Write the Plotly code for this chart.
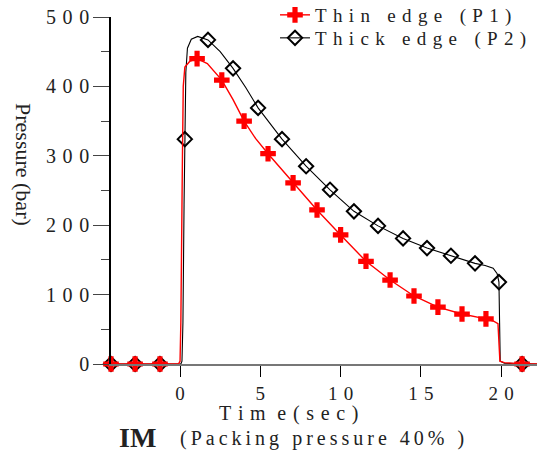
import plotly.graph_objects as go

# ---------------- data ----------------
# marker points
thin_mark_t = [-4.3, -2.8, -1.25, 1.06, 2.6, 3.99, 5.48, 7.04, 8.53, 10.0, 11.58, 13.08, 14.57, 16.06, 17.56, 19.05, 21.3]
thin_mark_p = [0, 0, 0, 440, 409, 350, 303, 261, 222, 186, 148, 121, 98, 82, 72, 65, 0]
thick_mark_t = [-4.3, -2.8, -1.25, 0.3, 1.74, 3.3, 4.86, 6.35, 7.85, 9.34, 10.83, 12.33, 13.89, 15.38, 16.87, 18.37, 19.86, 21.3]
thick_mark_p = [0, 0, 0, 324, 467, 426, 369, 324, 285, 251, 220, 199, 181, 167, 156, 145, 118, 0]

# additional curve knots between markers (continuous pressure trace)
thin_curve_t = [-0.1, 0.0, 0.05, 0.15, 0.2, 0.3, 0.6, 1.7, 3.3, 4.7, 19.5, 19.8, 19.88, 19.92, 20.2, 22.23]
thin_curve_p = [0, 4, 60, 300, 400, 428, 436, 433, 381, 325, 62, 58, 25, 4, 2, 0]
thick_curve_t = [0.05, 0.12, 0.18, 0.25, 0.36, 0.46, 0.7, 1.1, 2.5, 4.1, 19.0, 19.5, 19.75, 19.9, 19.94, 20.2, 22.23]
thick_curve_p = [0, 4, 60, 230, 420, 455, 468, 472, 450, 398, 142, 138, 130, 60, 4, 1, 0]

y_ticks = [0, 100, 200, 300, 400, 500]
y_minor = [50, 150, 250, 350, 450]
x_ticks = [0, 5, 10, 15, 20]

FONT = "Liberation Serif, Times New Roman, serif"
G = "\u2004"


def spread(s, gap=G):
    return gap.join(list(s))


def merge(mt, mp, ct, cp):
    pts = sorted(list(zip(mt, mp)) + list(zip(ct, cp)), key=lambda a: a[0])
    t = [a[0] for a in pts]
    p = [a[1] for a in pts]
    sel = [i for i, a in enumerate(pts) if a[0] in mt]
    return t, p, sel


tk_t, tk_p, tk_sel = merge(thick_mark_t, thick_mark_p, thick_curve_t, thick_curve_p)
tn_t, tn_p, tn_sel = merge(thin_mark_t, thin_mark_p, thin_curve_t, thin_curve_p)

fig = go.Figure()
fig.add_trace(go.Scatter(
    x=tk_t, y=tk_p, mode="lines+markers", name=spread("Thick edge (P2)"),
    legend="legend2",
    line=dict(color="black", width=1.1),
    marker=dict(symbol="diamond-open", size=11, color="black", line=dict(width=2, color="black")),
    selectedpoints=tk_sel, selected=dict(marker=dict(opacity=1)),
    unselected=dict(marker=dict(opacity=0)),
    cliponaxis=False,
))
fig.add_trace(go.Scatter(
    x=tn_t, y=tn_p, mode="lines+markers", name=spread("Thin edge (P1)"),
    legend="legend",
    line=dict(color="#ff0000", width=1.4),
    marker=dict(symbol="cross", size=13, color="#ff0000", line=dict(width=0)),
    selectedpoints=tn_sel, selected=dict(marker=dict(opacity=1)),
    unselected=dict(marker=dict(opacity=0)),
    cliponaxis=False,
))

leg_common = dict(xanchor="left", yanchor="middle", bgcolor="rgba(0,0,0,0)",
                  font=dict(family=FONT, size=19, color="#222"))

fig.update_layout(
    width=537, height=456,
    margin=dict(l=111, r=0, t=17, b=92, autoexpand=False),
    paper_bgcolor="white", plot_bgcolor="white",
    font=dict(family=FONT, color="#222", size=18),
    showlegend=True,
    legend=dict(x=0.385, y=(364 - 15) / 347, **leg_common),
    legend2=dict(x=0.385, y=(364 - 38) / 347, **leg_common),
    xaxis=dict(range=[-4.3, 22.23], tickvals=x_ticks,
               ticktext=[G.join(str(v)) for v in x_ticks],
               ticks="outside", ticklen=11, tickcolor="black", tickwidth=1.2,
               showline=True, linecolor="#777", linewidth=1.5,
               showgrid=False, zeroline=False,
               tickfont=dict(family=FONT, size=19, color="#222")),
    yaxis=dict(range=[0, 500], tickvals=y_ticks,
               ticktext=[G.join(str(v)) for v in y_ticks],
               ticks="outside", ticklen=16, tickcolor="#444", tickwidth=1.2,
               minor=dict(tickvals=y_minor, ticks="outside", ticklen=8, tickcolor="#444", tickwidth=1.2),
               showline=True, linecolor="black", linewidth=1.5,
               showgrid=False, zeroline=False,
               tickfont=dict(family=FONT, size=20, color="#222")),
    annotations=[
        dict(text="Pressure (bar)", xref="paper", yref="paper", x=-0.2066, y=0.5735,
             textangle=90, showarrow=False, xanchor="center", yanchor="middle",
             font=dict(family=FONT, size=22, color="#222")),
        dict(text="T" + G + "i" + G + "m " + G + "e" + G + "(" + G + "s" + G + "e" + G + "c" + G + ")",
             xref="paper", yref="paper", x=0.4155, y=(364 - 413) / 347, showarrow=False,
             xanchor="center", yanchor="middle", font=dict(family=FONT, size=20, color="#222")),
        dict(text="<b>IM</b>", xref="paper", yref="paper", x=0.0622, y=-0.2104, showarrow=False,
             xanchor="center", yanchor="middle", font=dict(family=FONT, size=28, color="#222")),
        dict(text=spread("(Packing pressure 40% )", "\u2009"), xref="paper", yref="paper",
             x=0.4953, y=-0.2133, showarrow=False,
             xanchor="center", yanchor="middle", font=dict(family=FONT, size=20, color="#222")),
    ],
)

fig.write_html("out.html")
